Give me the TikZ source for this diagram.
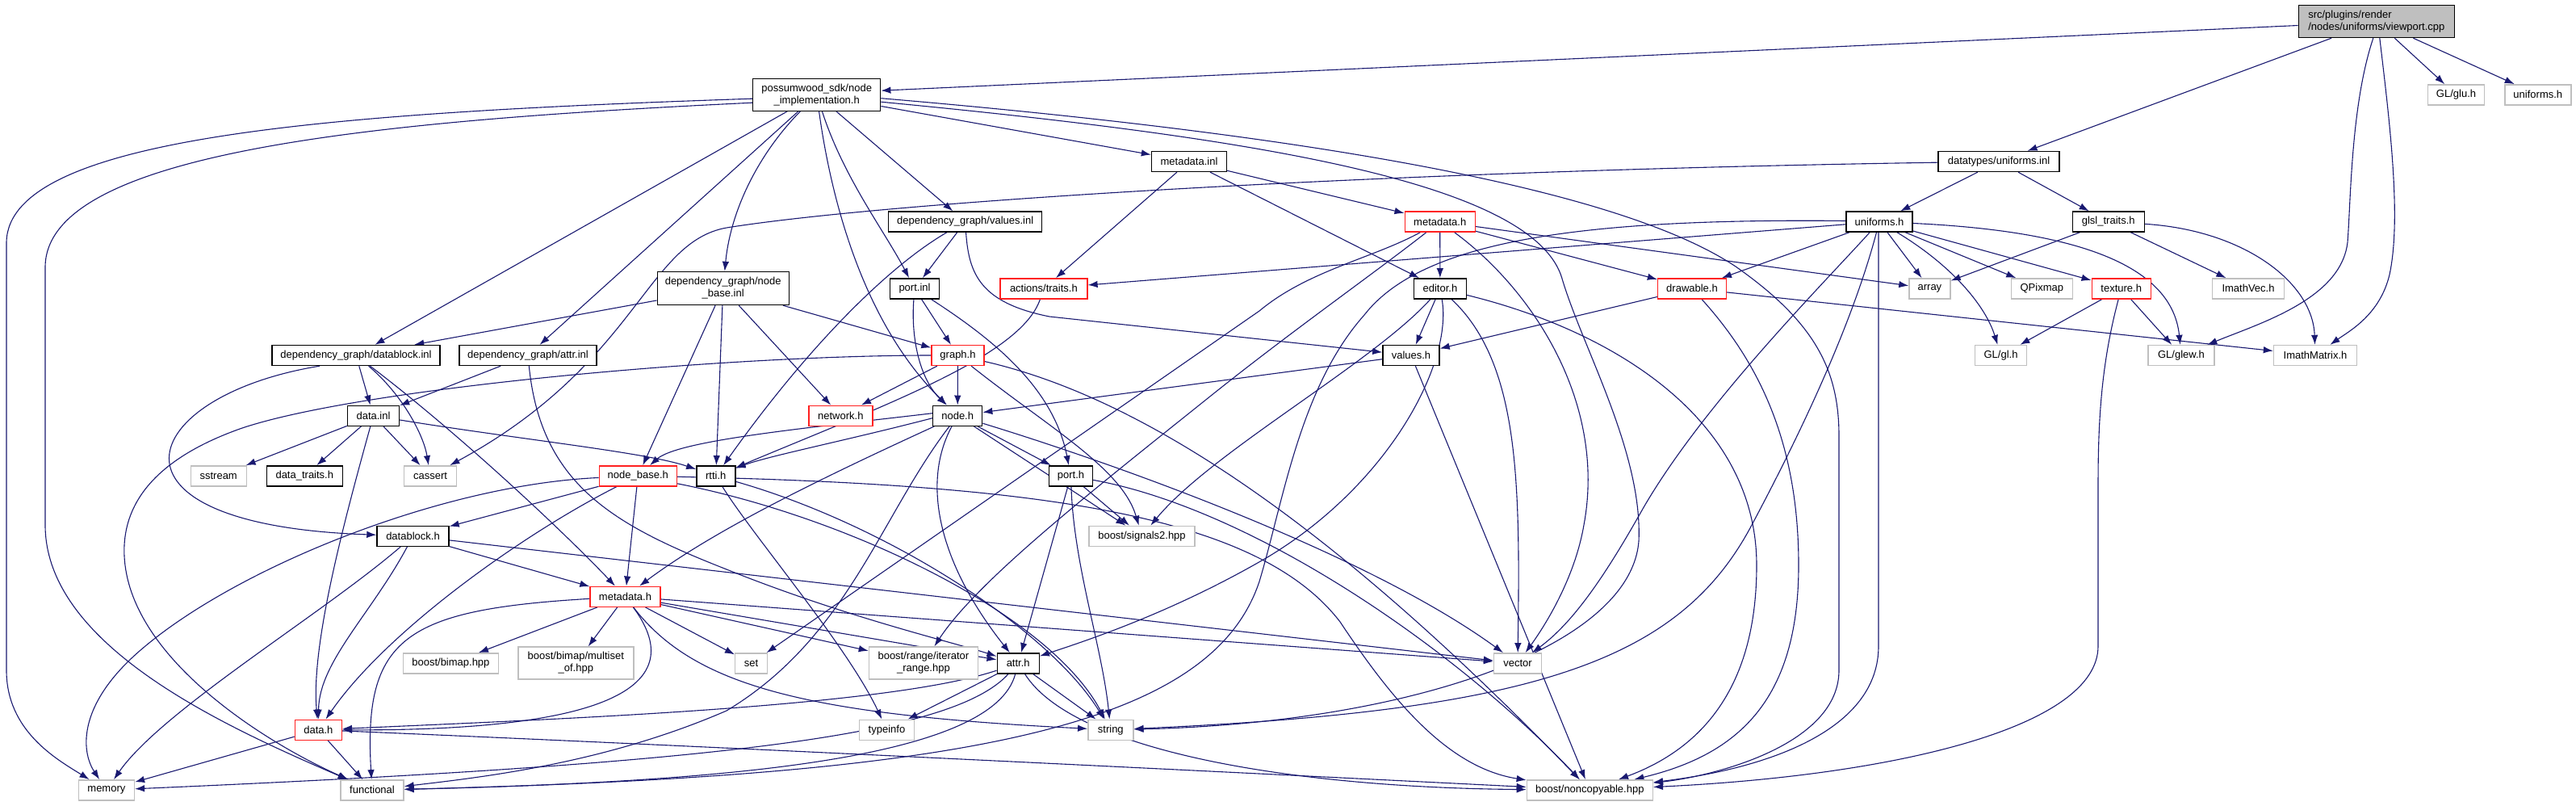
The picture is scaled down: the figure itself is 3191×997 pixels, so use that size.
\documentclass[tikz,border=0pt]{standalone}
\usepackage{fontspec}
\setmainfont{Liberation Sans}
\usetikzlibrary{arrows.meta}
\pgfdeclarelayer{edgelayer}
\pgfsetlayers{edgelayer,main}
\definecolor{edgec}{HTML}{191970}
\definecolor{redc}{HTML}{FF2020}
\definecolor{grayc}{HTML}{BFBFBF}
\tikzset{
 nb/.style={draw=black, line width=1.4pt, fill=white, minimum height=25pt, inner sep=0pt, font=\fontsize{13}{15}\selectfont, align=center},
 nr/.style={nb, draw=redc},
 ng/.style={nb, draw=grayc},
 e/.style={draw=edgec, line width=1.1pt, -{Latex[length=12pt,width=8.5pt]}},
}
\begin{document}
\begin{tikzpicture}[x=1pt,y=-1pt]
\useasboundingbox (0,0) rectangle (3191,997);
% nodes
\node[nb, fill=grayc, minimum width=193pt, minimum height=40pt, align=left] (V) at (2943.8,26.5) {src/plugins/render\\/nodes/uniforms/viewport.cpp};
\node[nb, minimum width=158pt, minimum height=40pt] (NI) at (1011.7,117.2) {possumwood\_sdk/node\\\_implementation.h};
\node[nb, minimum width=93pt] (MI) at (1473,200) {metadata.inl};
\node[nb, minimum width=190pt] (VI) at (1195.7,274.5) {dependency\_graph/values.inl};
\node[nb, minimum width=163pt, minimum height=41pt] (NBI) at (895.7,357) {dependency\_graph/node\\\_base.inl};
\node[nr, minimum width=87pt] (MHt) at (1783.7,274.5) {metadata.h};
\node[nb, minimum width=82pt] (UNI) at (2328,274.5) {uniforms.h};
\node[ng, minimum width=70pt] (GLU) at (3042.5,117.3) {GL/glu.h};
\node[ng, minimum width=82pt] (UNIx) at (3143.8,117.3) {uniforms.h};
\node[nb, minimum width=150pt] (DUI) at (2476,200) {datatypes/uniforms.inl};
\node[nb, minimum width=89pt] (GLSL) at (2611.7,274.5) {glsl\_traits.h};
\node[nb, minimum width=208pt] (DBI) at (441,440) {dependency\_graph/datablock.inl};
\node[nb, minimum width=170pt] (ATI) at (654,440) {dependency\_graph/attr.inl};
\node[nb, minimum width=64pt] (DI) at (462.5,514.7) {data.inl};
\node[ng, minimum width=69pt] (SST) at (270.7,589.3) {sstream};
\node[nb, minimum width=94pt] (DT) at (377.3,589.3) {data\_traits.h};
\node[ng, minimum width=65pt] (CAS) at (533,589.3) {cassert};
\node[nr, minimum width=96pt] (NBH) at (790.3,589.3) {node\_base.h};
\node[nb, minimum width=89pt] (DBH) at (511.5,663.8) {datablock.h};
\node[nb, minimum width=61pt] (PI) at (1133,357.3) {port.inl};
\node[nr, minimum width=108pt] (AT) at (1292.9,357.3) {actions/traits.h};
\node[nr, minimum width=65pt] (GR) at (1186.5,440) {graph.h};
\node[nr, minimum width=79pt] (NET) at (1041.3,514.7) {network.h};
\node[nb, minimum width=61pt] (NODE) at (1186.2,514.7) {node.h};
\node[nb, minimum width=48pt] (RTTI) at (886.8,589.3) {rtti.h};
\node[nb, minimum width=54pt] (PH) at (1326.5,589.3) {port.h};
\node[ng, minimum width=131pt] (SIG) at (1414.5,663.8) {boost/signals2.hpp};
\node[nb, minimum width=65pt] (ED) at (1783.9,357.3) {editor.h};
\node[nr, minimum width=85pt] (DRW) at (2096,357.3) {drawable.h};
\node[ng, minimum width=51pt] (ARR) at (2390.4,357.3) {array};
\node[nb, minimum width=70pt] (VH) at (1748,440) {values.h};
\node[ng, minimum width=76pt] (QP) at (2529.3,357.3) {QPixmap};
\node[nr, minimum width=73pt] (TEX) at (2627.7,357.3) {texture.h};
\node[ng, minimum width=89pt] (IV) at (2785,357.3) {ImathVec.h};
\node[ng, minimum width=64pt] (GL) at (2478.5,440) {GL/gl.h};
\node[ng, minimum width=82pt] (GLEW) at (2702,440) {GL/glew.h};
\node[ng, minimum width=103pt] (IMM) at (2868,440) {ImathMatrix.h};
\node[nr, minimum width=87pt] (MHl) at (774.5,738.7) {metadata.h};
\node[ng, minimum width=118pt] (BIM) at (558.4,821.3) {boost/bimap.hpp};
\node[ng, minimum width=143pt, minimum height=40pt] (MSO) at (713.3,821) {boost/bimap/multiset\\\_of.hpp};
\node[nr, minimum width=58pt] (DH) at (394.4,903.7) {data.h};
\node[ng, minimum width=69pt] (MEM) at (131.9,978.3) {memory};
\node[ng, minimum width=78pt] (FUN) at (461,978.3) {functional};
\node[ng, minimum width=40pt] (SET) at (930.6,821.3) {set};
\node[ng, minimum width=135pt, minimum height=40pt] (IR) at (1143.9,821) {boost/range/iterator\\\_range.hpp};
\node[nb, minimum width=52pt] (ATTR) at (1261.2,821.3) {attr.h};
\node[ng, minimum width=68pt] (TI) at (1098.5,903.7) {typeinfo};
\node[ng, minimum width=56pt] (STR) at (1375.8,903.7) {string};
\node[ng, minimum width=59pt] (VEC) at (1880,821.3) {vector};
\node[ng, minimum width=156pt] (NC) at (1969.3,978.3) {boost/noncopyable.hpp};
\begin{pgfonlayer}{edgelayer}
% viewport
\draw[e] ([yshift=-5pt]V.west) -- ([yshift=5pt]NI.east);
\draw[e] (V) -- (DUI);
\draw[e] (V) -- (GLU);
\draw[e] (V) -- (UNIx);
\draw[e] ([xshift=-4pt]V.south) .. controls (2912,130) and (2912,250) .. (2908,300) .. controls (2900,370) and (2800,400) .. (GLEW);
\draw[e] ([xshift=4pt]V.south) .. controls (2960,150) and (2975,270) .. (2960,340) .. controls (2948,390) and (2910,410) .. (IMM);
% node_implementation
\draw[e] ([yshift=-5pt]NI.west) .. controls (400,140) and (10,170) .. (8,300) -- (8,830) .. controls (8,905) and (70,940) .. (MEM);
\draw[e] ([yshift=-10pt]NI.west) .. controls (450,150) and (58,190) .. (56,330) -- (56,650) .. controls (56,800) and (280,900) .. (FUN);
\draw[e] (NI) -- (DBI);
\draw[e] (NI) -- (ATI);
\draw[e] (NI) .. controls (940,190) and (905,260) .. (NBI);
\draw[e] (NI) .. controls (1030,250) and (1070,400) .. (NODE);
\draw[e] (NI) .. controls (1045,220) and (1095,285) .. (PI);
\draw[e] (NI) -- (VI);
\draw[e] (NI) -- (MI);
\draw[e] ([yshift=-4.5pt]NI.east) .. controls (1600,165) and (2000,230) .. (2150,330) .. controls (2250,400) and (2278,460) .. (2278,540) -- (2278,830) .. controls (2278,920) and (2130,960) .. (NC);
\draw[e] ([yshift=-9pt]NI.east) .. controls (1550,170) and (1900,225) .. (1935,345) .. controls (1960,430) and (2035,560) .. (2030,670) .. controls (2020,800) and (1750,895) .. (STR);
% metadata.inl
\draw[e] (MI) -- (MHt);
\draw[e] (MI) -- (AT);
\draw[e] (MI) -- (ED);
% values.inl
\draw[e] (VI) -- (PI);
\draw[e] (VI) .. controls (1100,330) and (1000,430) .. (RTTI);
\draw[e] (VI) .. controls (1200,340) and (1215,375) .. (1300,392) -- (VH);
% datatypes/uniforms.inl
\draw[e] (DUI) -- (UNI);
\draw[e] (DUI) -- (GLSL);
\draw[e] (DUI) .. controls (1700,212) and (1100,250) .. (900,282) .. controls (800,300) and (790,450) .. (CAS);
% glsl_traits
\draw[e] (GLSL) -- (ARR);
\draw[e] (GLSL) -- (IV);
\draw[e] (GLSL) .. controls (2780,285) and (2865,350) .. (IMM);
% uniforms.h
\draw[e] (UNI) -- (AT);
\draw[e] (UNI) -- (DRW);
\draw[e] (UNI) -- (ARR);
\draw[e] (UNI) -- (QP);
\draw[e] (UNI) -- (TEX);
\draw[e] (UNI) .. controls (2420,330) and (2460,380) .. (GL);
\draw[e] (UNI) .. controls (2550,285) and (2690,320) .. (GLEW);
\draw[e] (UNI) .. controls (2260,350) and (2110,500) .. (2035,630) .. controls (1990,710) and (1950,770) .. (VEC);
\draw[e] (UNI) .. controls (2300,380) and (2250,500) .. (2170,650) .. controls (2080,820) and (1900,880) .. (STR);
\draw[e] ([xshift=-1pt]UNI.south) -- (2327,800) .. controls (2327,900) and (2200,950) .. (NC);
\draw[e] ([yshift=1pt]UNI.west) .. controls (1950,270) and (1760,300) .. (1690,390) .. controls (1610,480) and (1590,620) .. (1560,720) .. controls (1500,900) and (1200,960) .. (FUN);
% metadata.h (top)
\draw[e] (MHt) -- (ED);
\draw[e] (MHt) -- (DRW);
\draw[e] (MHt) -- (ARR);
\draw[e] (MHt) .. controls (1900,360) and (1990,500) .. (1962,650) .. controls (1950,720) and (1910,780) .. (VEC);
\draw[e] (MHt) .. controls (1700,320) and (1620,335) .. (1560,385) -- (SET);
\draw[e] (MHt) .. controls (1700,340) and (1600,410) .. (1500,490) .. controls (1350,610) and (1210,720) .. (IR);
% actions/traits
\draw[e] (AT) .. controls (1265,440) and (1100,500) .. (RTTI);
% editor
\draw[e] (ED) -- (VH);
\draw[e] (ED) .. controls (1883,450) and (1883,600) .. (VEC);
\draw[e] (ED) .. controls (1800,450) and (1720,600) .. (1570,690) .. controls (1450,760) and (1340,795) .. (ATTR);
\draw[e] (ED) .. controls (1700,450) and (1500,560) .. (SIG);
\draw[e] (ED) .. controls (2000,410) and (2176,520) .. (2176,700) .. controls (2176,860) and (2100,930) .. (NC);
% drawable
\draw[e] (DRW) -- (VH);
\draw[e] (DRW) -- (IMM);
\draw[e] (DRW) .. controls (2180,450) and (2228,550) .. (2228,700) .. controls (2228,870) and (2150,935) .. (NC);
% texture
\draw[e] (TEX) -- (GL);
\draw[e] (TEX) -- (GLEW);
\draw[e] (TEX) .. controls (2603,450) and (2599,520) .. (2599,600) -- (2599,800) .. controls (2599,900) and (2350,960) .. (NC);
% values.h
\draw[e] (VH) -- (NODE);
\draw[e] (VH) -- (NC);
% node_base.inl
\draw[e] (NBI) -- (NBH);
\draw[e] (NBI) -- (RTTI);
\draw[e] (NBI) -- (NET);
\draw[e] (NBI) -- (GR);
\draw[e] (NBI) -- (DBI);
% datablock.inl
\draw[e] (DBI) -- (DI);
\draw[e] (DBI) .. controls (500,490) and (525,540) .. (CAS);
\draw[e] ([xshift=-45pt]DBI.south) .. controls (170,490) and (105,650) .. (DBH);
\draw[e] (DBI) .. controls (560,530) and (690,650) .. (MHl);
% attr.inl
\draw[e] (ATI) -- (DI);
\draw[e] (ATI) .. controls (670,600) and (760,650) .. (900,705) .. controls (1050,765) and (1180,795) .. (ATTR);
% port.inl
\draw[e] (PI) -- (GR);
\draw[e] (PI) .. controls (1128,420) and (1140,470) .. (NODE);
\draw[e] (PI) .. controls (1230,420) and (1305,480) .. (PH);
% graph.h
\draw[e] (GR) -- (NET);
\draw[e] (GR) -- (NODE);
\draw[e] (GR) .. controls (1300,530) and (1390,580) .. (SIG);
\draw[e] (GR) .. controls (900,440) and (450,480) .. (300,530) .. controls (200,565) and (145,620) .. (155,700) .. controls (170,820) and (330,920) .. (FUN);
\draw[e] (GR) .. controls (1450,500) and (1700,700) .. (NC);
% data.inl
\draw[e] (DI) -- (SST);
\draw[e] (DI) -- (DT);
\draw[e] (DI) -- (CAS);
\draw[e] (DI) .. controls (425,650) and (385,800) .. (DH);
\draw[e] (DI) .. controls (650,545) and (800,560) .. (RTTI);
% node.h
\draw[e] ([yshift=3pt]NODE.west) .. controls (1000,530) and (840,545) .. (NBH);
\draw[e] ([yshift=-3pt]NODE.west) .. controls (1050,545) and (950,565) .. (RTTI);
\draw[e] (NODE) -- (PH);
\draw[e] (NODE) -- (SIG);
\draw[e] (NODE) .. controls (1140,600) and (1165,700) .. (ATTR);
\draw[e] (NODE) .. controls (1090,640) and (1050,790) .. (900,880) .. controls (750,945) and (600,962) .. (FUN);
\draw[e] (NODE) .. controls (1400,580) and (1700,690) .. (VEC);
\draw[e] (NODE) .. controls (1000,600) and (880,660) .. (MHl);
% rtti.h
\draw[e] (RTTI) .. controls (930,660) and (1050,800) .. (TI);
\draw[e] (RTTI) .. controls (1100,650) and (1300,780) .. (STR);
% port.h
\draw[e] (PH) -- (ATTR);
\draw[e] (PH) .. controls (1330,700) and (1365,800) .. (STR);
\draw[e] (PH) -- (SIG);
\draw[e] (PH) .. controls (1550,630) and (1800,800) .. (NC);
% node_base.h
\draw[e] (NBH) -- (DBH);
\draw[e] (NBH) -- (MHl);
\draw[e] (NBH) .. controls (650,660) and (480,780) .. (DH);
\draw[e] (NBH) .. controls (550,600) and (300,700) .. (180,800) .. controls (95,870) and (100,930) .. (MEM);
\draw[e] (NBH) .. controls (1300,600) and (1560,640) .. (1660,770) .. controls (1720,860) and (1790,950) .. (NC);
\draw[e] (NBH) .. controls (1050,640) and (1300,760) .. (STR);
% datablock.h
\draw[e] (DBH) .. controls (460,760) and (395,820) .. (DH);
\draw[e] (DBH) .. controls (400,760) and (200,880) .. (MEM);
\draw[e] (DBH) -- (MHl);
\draw[e] (DBH) -- (VEC);
% metadata.h (lower)
\draw[e] (MHl) .. controls (500,755) and (450,790) .. (FUN);
\draw[e] (MHl) -- (BIM);
\draw[e] (MHl) -- (MSO);
\draw[e] (MHl) .. controls (850,840) and (780,905) .. (DH);
\draw[e] (MHl) -- (SET);
\draw[e] (MHl) -- (IR);
\draw[e] (MHl) -- (ATTR);
\draw[e] (MHl) -- (VEC);
\draw[e] (MHl) .. controls (860,850) and (1000,885) .. (STR);
% data.h
\draw[e] (DH) -- (MEM);
\draw[e] (DH) -- (FUN);
\draw[e] (DH) .. controls (900,925) and (1500,955) .. (NC);
% attr.h
\draw[e] (ATTR) .. controls (1100,875) and (700,890) .. (DH);
\draw[e] (ATTR) -- (TI);
\draw[e] (ATTR) -- (STR);
\draw[e] (ATTR) .. controls (1180,910) and (900,945) .. (MEM);
\draw[e] (ATTR) .. controls (1230,940) and (900,968) .. (FUN);
\draw[e] (ATTR) .. controls (1330,930) and (1600,975) .. (NC);
\end{pgfonlayer}
\end{tikzpicture}
\end{document}
